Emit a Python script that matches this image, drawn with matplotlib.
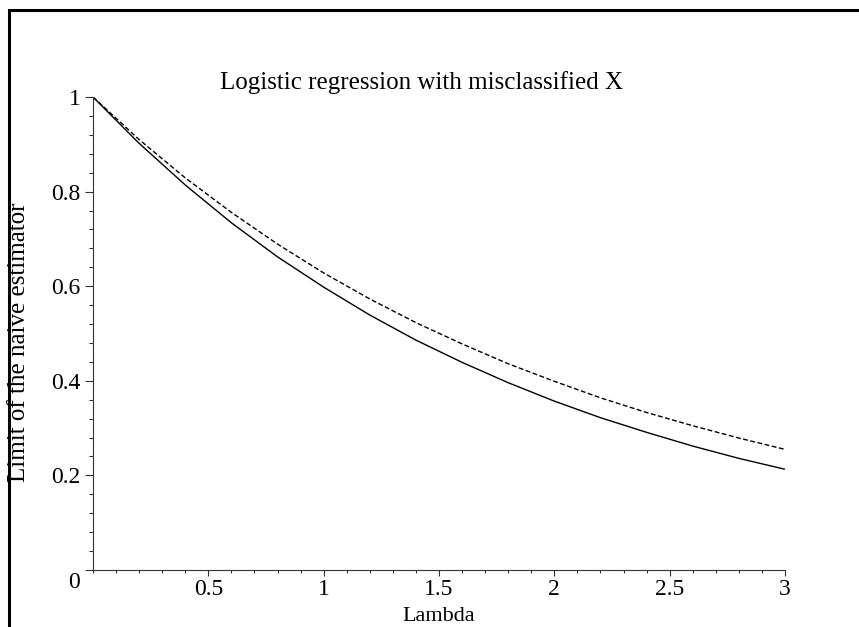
import matplotlib
matplotlib.use("Agg")
import matplotlib.pyplot as plt
from matplotlib.lines import Line2D
from matplotlib.ticker import MultipleLocator

# Data
lam = [0.0, 0.2, 0.4, 0.6, 0.8, 1.0, 1.2, 1.4, 1.6, 1.8, 2.0, 2.2, 2.4, 2.6, 2.8, 3.0]
solid_vals = [1.0, 0.902, 0.814, 0.734, 0.662, 0.598, 0.539, 0.486, 0.439, 0.396,
              0.357, 0.322, 0.291, 0.262, 0.236, 0.213]
dashed_vals = [1.0, 0.910, 0.829, 0.756, 0.689, 0.628, 0.573, 0.523, 0.478, 0.436,
               0.399, 0.364, 0.333, 0.305, 0.279, 0.255]
xticks = [0.5, 1.0, 1.5, 2.0, 2.5, 3.0]
xticklabels = ["0.5", "1", "1.5", "2", "2.5", "3"]
yticks = [0.0, 0.2, 0.4, 0.6, 0.8, 1.0]
yticklabels = ["", "0.2", "0.4", "0.6", "0.8", "1"]
title = "Logistic regression with misclassified X"
xlabel = "Lambda"
ylabel = "Limit of the naive estimator"

plt.rcParams['font.family'] = ['Liberation Serif', 'DejaVu Serif']
FS_TICK = 17
FS_TEXT = 18

W, H = 859, 627
fig = plt.figure(figsize=(W / 100, H / 100), dpi=100)
ax = fig.add_axes([93 / W, (H - 570) / H, (785 - 93) / W, (570 - 97) / H])

ax.plot(lam, solid_vals, color='black', lw=1.0, solid_capstyle='butt')
ax.plot(lam, dashed_vals, color='black', lw=1.0, dashes=(3.5, 1.8))

ax.set_xlim(0, 3)
ax.set_ylim(0, 1)
for s in ['top', 'right']:
    ax.spines[s].set_visible(False)
for s in ['left', 'bottom']:
    ax.spines[s].set_color('#333333')
    ax.spines[s].set_linewidth(0.8)

ax.set_xticks(xticks)
ax.set_xticklabels(xticklabels, fontsize=FS_TICK)
ax.set_yticks(yticks)
ax.set_yticklabels(yticklabels, fontsize=FS_TICK)
ax.xaxis.set_minor_locator(MultipleLocator(0.1))
ax.yaxis.set_minor_locator(MultipleLocator(0.04))
ax.tick_params(axis='x', which='major', direction='out', length=4.3, width=0.8,
               color='#333333', pad=2.5)
ax.tick_params(axis='x', which='minor', direction='out', length=2.3, width=0.8,
               color='#333333')
ax.tick_params(axis='y', which='major', direction='out', length=5.8, width=0.8,
               color='#333333', pad=3.0)
ax.tick_params(axis='y', which='minor', direction='out', length=2.8, width=0.8,
               color='#333333')

ax.annotate("0", xy=(0, 0), xycoords='data', xytext=(-19, -12),
            textcoords='offset pixels', ha='center', va='center', fontsize=FS_TICK)

fig.text(421 / W, 1 - 89 / H, title, ha='center', va='baseline', fontsize=FS_TEXT)
fig.text(439 / W, 6 / H, xlabel, ha='center', va='baseline', fontsize=16)
fig.text(19 / W, 1 - 342 / H, ylabel, ha='center', va='center', rotation=90,
         fontsize=FS_TEXT)

# frame lines (top and left)
yt = 1 - 9.5 / H
xl = 8.5 / W
fig.add_artist(Line2D([xl, xl, 1.0], [0.0, yt, yt], transform=fig.transFigure,
                      color='black', lw=2.2, solid_joinstyle='miter'))

fig.savefig("out.png", dpi=100)
